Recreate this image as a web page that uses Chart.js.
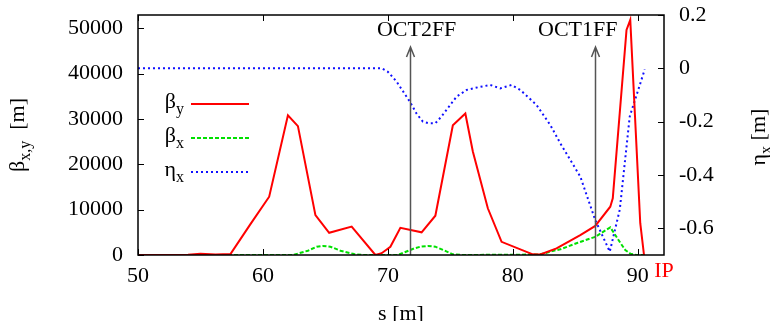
<!DOCTYPE html>
<html>
<head>
<meta charset="utf-8">
<script src="https://cdn.jsdelivr.net/npm/chart.js@4"></script>
<style>
  html, body { margin: 0; padding: 0; background: #fff; }
  #wrap { width: 770px; height: 321px; }
</style>
</head>
<body>
<div id="wrap"><canvas id="optics" width="770" height="321"></canvas></div>
<script>
// beta_y (red)
const sBetaY = [50, 54.0, 55.0, 56.2, 57.4, 59.0, 60.5, 62.0, 62.8, 64.2, 65.3, 67.1, 69.0, 69.5, 70.2, 71.0, 72.7, 73.8, 75.2, 76.2, 76.8, 78.0, 79.1, 81.6, 82.2, 83.5, 85.4, 86.6, 87.8, 88.0, 89.1, 89.4, 90.2, 90.5];
const betaY = [0, 50, 250, 100, 200, 6800, 12850, 30800, 28400, 8800, 4900, 6250, 0, 400, 1800, 6000, 5000, 8650, 28600, 31200, 22800, 10300, 2900, 150, 100, 1450, 4400, 6400, 10650, 12500, 49600, 51800, 7000, 0];

// beta_x (green)
const sBetaX = [50, 62.4, 63.6, 64.3, 64.8, 65.4, 66.2, 67.3, 68.0, 70.8, 72.1, 72.6, 73.2, 73.8, 74.6, 75.2, 76.0, 82.0, 82.6, 83.2, 83.8, 85.2, 86.6, 87.8, 88.2, 88.6, 89.0, 89.4, 89.9, 90.5];
const betaX = [0, 0, 950, 1830, 2000, 1830, 950, 200, 0, 0, 1450, 1830, 2000, 1830, 900, 150, 0, 100, 400, 900, 1250, 2700, 4000, 6100, 4400, 2700, 1100, 300, 0, 0];

// eta_x (blue, right axis)
const sEta = [50, 69.5, 70.0, 70.7, 71.76, 72.3, 72.8, 73.3, 73.8, 74.3, 75.5, 76.3, 77.3, 78.2, 79.0, 79.9, 80.6, 81.9, 83.0, 83.8, 85.4, 86.6, 87.76, 88.56, 89.36, 90.56];
const eta = [0, 0, -0.013, -0.05, -0.125, -0.17, -0.2, -0.206, -0.206, -0.18, -0.106, -0.081, -0.07, -0.0625, -0.075, -0.0625, -0.081, -0.1375, -0.2125, -0.281, -0.406, -0.569, -0.6875, -0.53, -0.18, -0.004];

// tick values
const sTicks = [50, 60, 70, 80, 90];
const betaTicks = [0, 10000, 20000, 30000, 40000, 50000];
const etaTicks = [-0.6, -0.4, -0.2, 0, 0.2];

const legendMain = ['β', 'β', 'η'];
const legendSub = ['y', 'x', 'x'];

// element markers along s
const markerNames = ['OCT2FF', 'OCT1FF'];
const markerS = [71.8, 86.6];
const markerLabelS = [72.3, 85.2];

const serif = 'Liberation Serif';

function pts(xs, ys) {
  return xs.map((s, i) => ({ x: s, y: ys[i] }));
}

// text with a subscript, returns total width
function subText(ctx, main, sub, tail, x, y, size, measureOnly) {
  ctx.font = size + 'px "' + serif + '"';
  const w1 = ctx.measureText(main).width;
  ctx.font = Math.round(size * 0.72) + 'px "' + serif + '"';
  const w2 = ctx.measureText(sub).width;
  ctx.font = size + 'px "' + serif + '"';
  const w3 = tail ? ctx.measureText(tail).width : 0;
  if (!measureOnly) {
    ctx.textAlign = 'left';
    ctx.textBaseline = 'alphabetic';
    ctx.fillText(main, x, y);
    ctx.font = Math.round(size * 0.72) + 'px "' + serif + '"';
    ctx.fillText(sub, x + w1, y + size * 0.28);
    if (tail) {
      ctx.font = size + 'px "' + serif + '"';
      ctx.fillText(tail, x + w1 + w2, y);
    }
  }
  return w1 + w2 + w3;
}

const decorations = {
  id: 'decorations',
  afterDraw(chart) {
    const ctx = chart.ctx;
    const a = chart.chartArea;
    const xs = chart.scales.x, ys = chart.scales.y, y2 = chart.scales.y2;
    ctx.save();

    // inner tick marks
    ctx.strokeStyle = '#000';
    ctx.lineWidth = 1;
    ctx.beginPath();
    xs.ticks.forEach(t => {
      const px = Math.round(xs.getPixelForValue(t.value)) + 0.5;
      ctx.moveTo(px, a.bottom); ctx.lineTo(px, a.bottom - 6);
      ctx.moveTo(px, a.top); ctx.lineTo(px, a.top + 6);
    });
    ys.ticks.forEach(t => {
      const py = Math.round(ys.getPixelForValue(t.value)) + 0.5;
      ctx.moveTo(a.left, py); ctx.lineTo(a.left + 6, py);
    });
    y2.ticks.forEach(t => {
      const py = Math.round(y2.getPixelForValue(t.value)) + 0.5;
      ctx.moveTo(a.right, py); ctx.lineTo(a.right - 6, py);
    });
    ctx.stroke();

    // markers
    ctx.strokeStyle = '#555';
    ctx.lineWidth = 1.5;
    markerS.forEach((s, i) => {
      const px = Math.round(xs.getPixelForValue(s)) + 0.5;
      const tip = a.top + 32;
      ctx.beginPath();
      ctx.moveTo(px, a.bottom);
      ctx.lineTo(px, tip);
      ctx.moveTo(px - 4, tip + 10);
      ctx.lineTo(px, tip);
      ctx.lineTo(px + 4, tip + 10);
      ctx.stroke();
      ctx.fillStyle = '#000';
      ctx.font = '22px "' + serif + '"';
      ctx.textAlign = 'center';
      ctx.textBaseline = 'alphabetic';
      ctx.fillText(markerNames[i], xs.getPixelForValue(markerLabelS[i]), a.top + 21);
    });

    // IP label
    ctx.fillStyle = '#f00';
    ctx.font = '22px "' + serif + '"';
    ctx.textAlign = 'center';
    ctx.fillText('IP', a.right, a.bottom + 22);

    // frame
    ctx.strokeStyle = '#000';
    ctx.lineWidth = 1.5;
    ctx.strokeRect(a.left, a.top, a.right - a.left, a.bottom - a.top);

    // axis titles
    ctx.fillStyle = '#000';
    ctx.font = '22px "' + serif + '"';
    ctx.textAlign = 'center';
    ctx.fillText('s [m]', (a.left + a.right) / 2, 320);

    let w = subText(ctx, 'β', 'x,y', '  [m]', 0, 0, 22, true);
    ctx.save();
    ctx.translate(24, 135);
    ctx.rotate(-Math.PI / 2);
    subText(ctx, 'β', 'x,y', '  [m]', -w / 2, 0, 22);
    ctx.restore();

    w = subText(ctx, 'η', 'x', ' [m]', 0, 0, 22, true);
    ctx.save();
    ctx.translate(765, 137);
    ctx.rotate(-Math.PI / 2);
    subText(ctx, 'η', 'x', ' [m]', -w / 2, 0, 22);
    ctx.restore();

    // legend
    chart.data.datasets.forEach((ds, i) => {
      const cy = 104 + i * 34;
      ctx.fillStyle = '#000';
      const tw = subText(ctx, legendMain[i], legendSub[i], '', 0, 0, 22, true);
      subText(ctx, legendMain[i], legendSub[i], '', 184 - tw, cy + 4, 22);
      ctx.strokeStyle = ds.borderColor;
      ctx.lineWidth = ds.borderWidth;
      ctx.setLineDash(ds.borderDash || []);
      ctx.beginPath();
      ctx.moveTo(191, cy);
      ctx.lineTo(249, cy);
      ctx.stroke();
      ctx.setLineDash([]);
    });

    ctx.restore();
  }
};

const tickFont = { family: serif, size: 22 };
const fixTicks = list => scale => { scale.ticks = list.map(v => ({ value: v })); };

new Chart(document.getElementById('optics').getContext('2d'), {
  type: 'line',
  data: {
    datasets: [
      { label: 'βy', data: pts(sBetaY, betaY), yAxisID: 'y', borderColor: '#ff0000', borderWidth: 2, pointRadius: 0, tension: 0 },
      { label: 'βx', data: pts(sBetaX, betaX), yAxisID: 'y', borderColor: '#00e000', borderWidth: 2, borderDash: [4, 2], pointRadius: 0, tension: 0 },
      { label: 'ηx', data: pts(sEta, eta), yAxisID: 'y2', borderColor: '#1010ff', borderWidth: 2, borderDash: [2, 3], pointRadius: 0, tension: 0 }
    ]
  },
  options: {
    responsive: false,
    animation: false,
    layout: { padding: { top: 15, left: 0, right: 0, bottom: 0 } },
    plugins: {
      legend: { display: false },
      tooltip: { enabled: false }
    },
    scales: {
      x: {
        type: 'linear', min: 50, max: 92.1,
        afterBuildTicks: fixTicks(sTicks),
        afterFit: s => { s.height = 66; s.paddingLeft = 0; s.paddingRight = 0; },
        grid: { display: false, drawTicks: false },
        border: { display: false },
        ticks: { padding: 8, color: '#000', font: tickFont, callback: v => String(v) }
      },
      y: {
        position: 'left', min: 0, max: 52900,
        afterBuildTicks: fixTicks(betaTicks),
        afterFit: s => { s.width = 138; s.paddingTop = 0; s.paddingBottom = 0; },
        grid: { display: false, drawTicks: false },
        border: { display: false },
        ticks: { padding: 15, color: '#000', font: tickFont, callback: v => String(v) }
      },
      y2: {
        position: 'right', min: -0.7, max: 0.2,
        afterBuildTicks: fixTicks(etaTicks),
        afterFit: s => { s.width = 106; s.paddingTop = 0; s.paddingBottom = 0; },
        grid: { display: false, drawTicks: false },
        border: { display: false },
        ticks: { padding: 15, color: '#000', font: tickFont,
          callback: v => Math.abs(v) < 1e-9 ? '0' : v.toFixed(1) }
      }
    }
  },
  plugins: [decorations]
});
</script>
</body>
</html>
